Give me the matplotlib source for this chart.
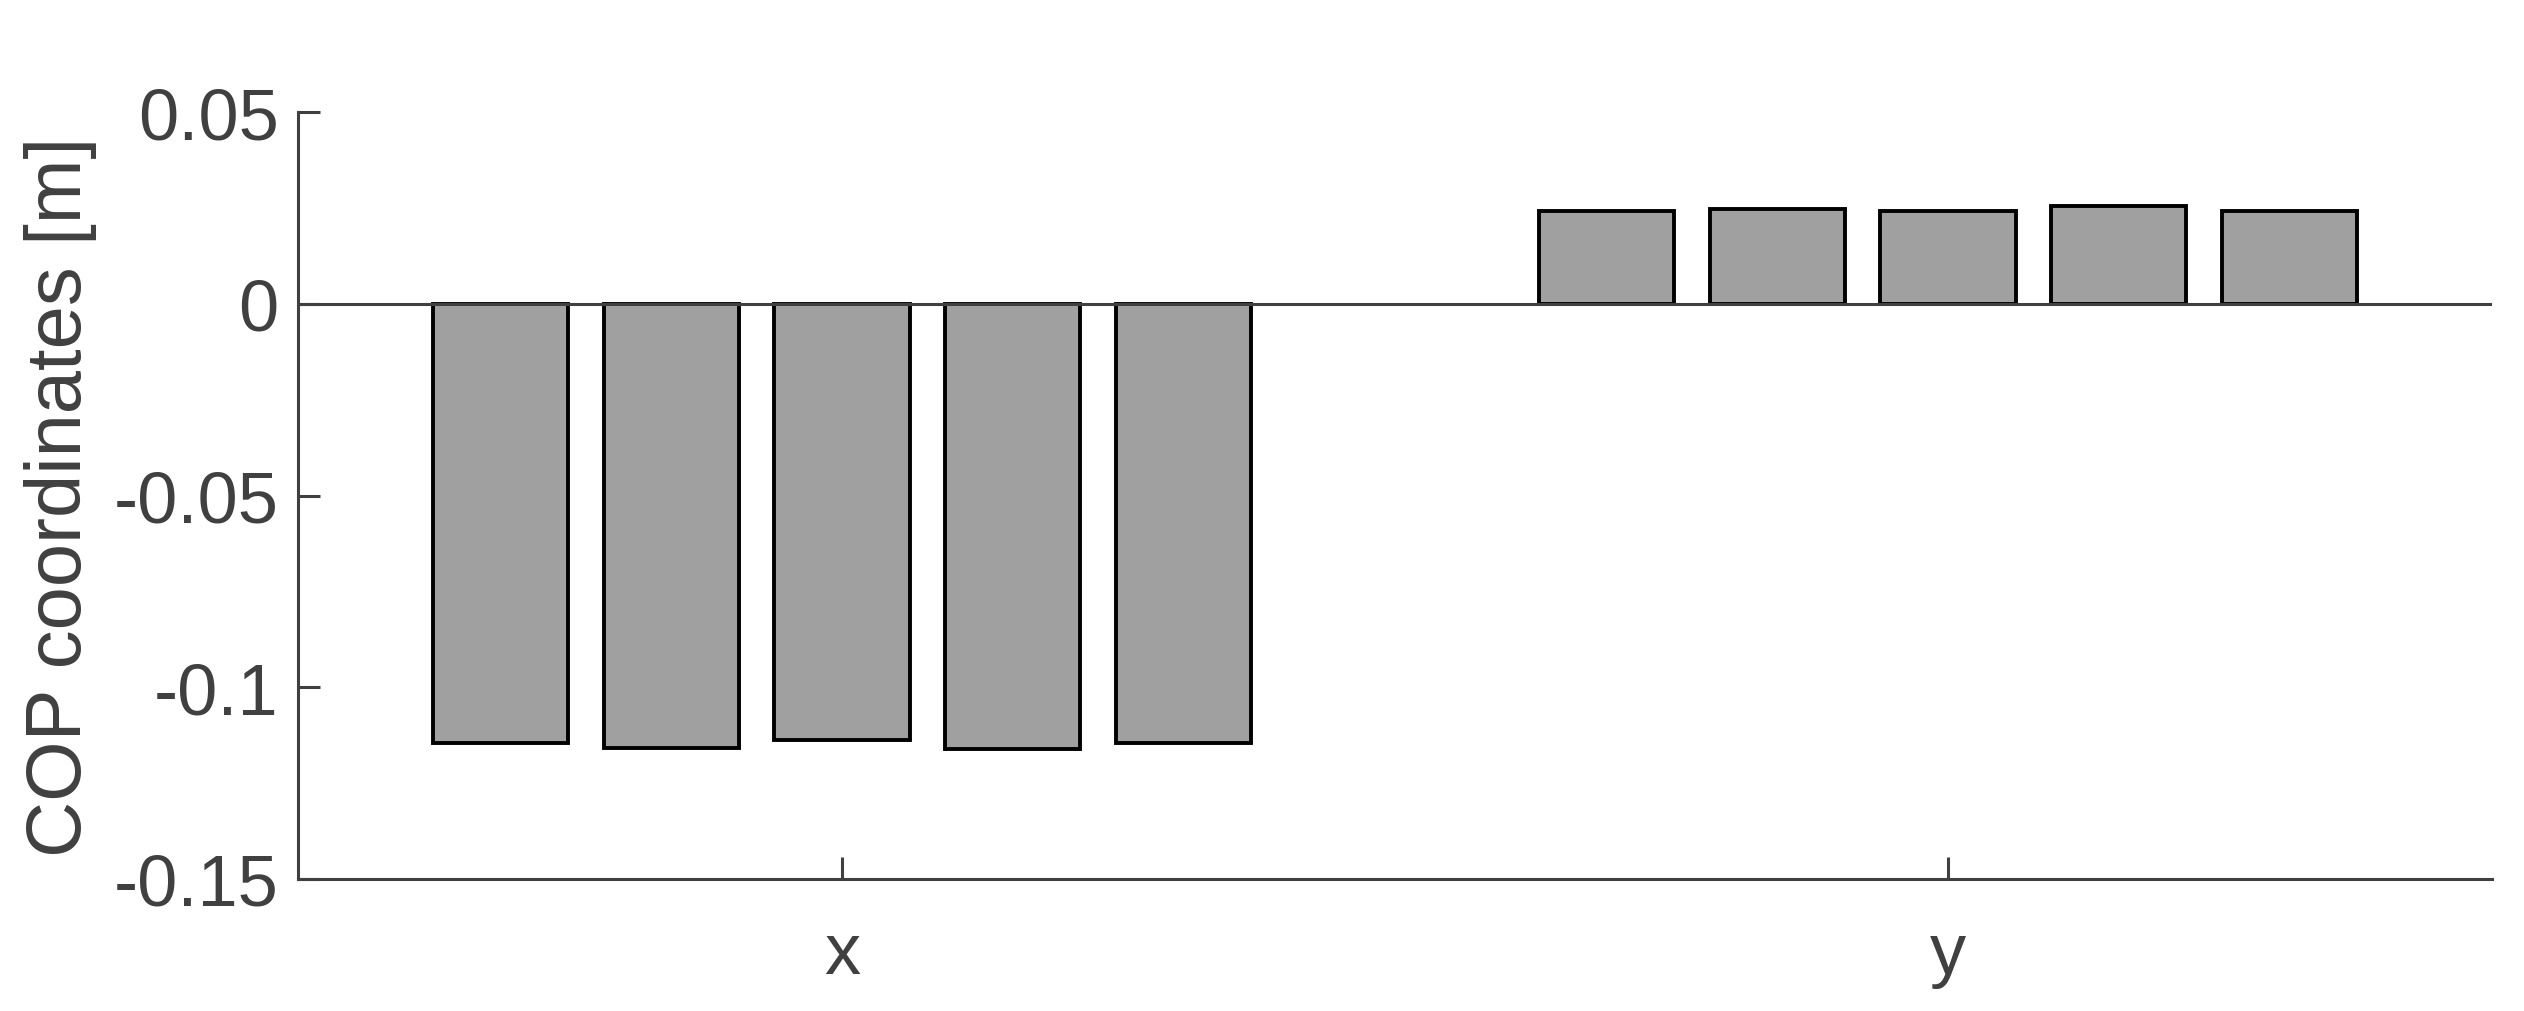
import numpy as np
import matplotlib
matplotlib.use("Agg")
import matplotlib.pyplot as plt

# ── data ─────────────────────────────────────────────────────────────────────
categories = ["x", "y"]
cop_x = [-0.1146, -0.1159, -0.1137, -0.1162, -0.1146]
cop_y = [0.0242, 0.0248, 0.0243, 0.0256, 0.0241]
yticks = [-0.15, -0.1, -0.05, 0, 0.05]
ytick_labels = ["-0.15", "-0.1", "-0.05", "0", "0.05"]

AX_COL = "#404040"
plt.rcParams["font.family"] = ["Liberation Sans", "DejaVu Sans"]

fig = plt.figure(figsize=(25.24, 10.12), dpi=100)
ax = fig.add_axes([298 / 2524, 1 - 880 / 1012, (2492 - 298) / 2524, (880 - 113) / 1012])

values = np.array([cop_x, cop_y]).T          # rows = series, cols = category
n_series = values.shape[0]
step, width = 0.1543, 0.1223
centers = np.arange(1, len(categories) + 1)
for i in range(n_series):
    off = (i - (n_series - 1) / 2) * step
    ax.bar(centers + off, values[i], width=width, color="#a0a0a0",
           edgecolor="black", linewidth=2.8, zorder=3)

ax.axhline(0, color=AX_COL, lw=2.2, zorder=4)

ax.set_xlim(0.508, 2.492)
ax.set_ylim(-0.15, 0.05)
ax.set_xticks(centers)
ax.set_xticklabels(categories)
ax.set_yticks(yticks)
ax.set_yticklabels(ytick_labels)
ax.set_ylabel("COP coordinates [m]", fontsize=56, color=AX_COL, labelpad=12)

for s in ["top", "right"]:
    ax.spines[s].set_visible(False)
for s in ["left", "bottom"]:
    ax.spines[s].set_color(AX_COL)
    ax.spines[s].set_linewidth(2.2)
ax.tick_params(axis="both", direction="in", length=16, width=2.2,
               color=AX_COL, labelcolor=AX_COL, labelsize=52)
ax.tick_params(axis="x", pad=30)
ax.tick_params(axis="y", pad=14)

fig.savefig("out.png", dpi=100)
